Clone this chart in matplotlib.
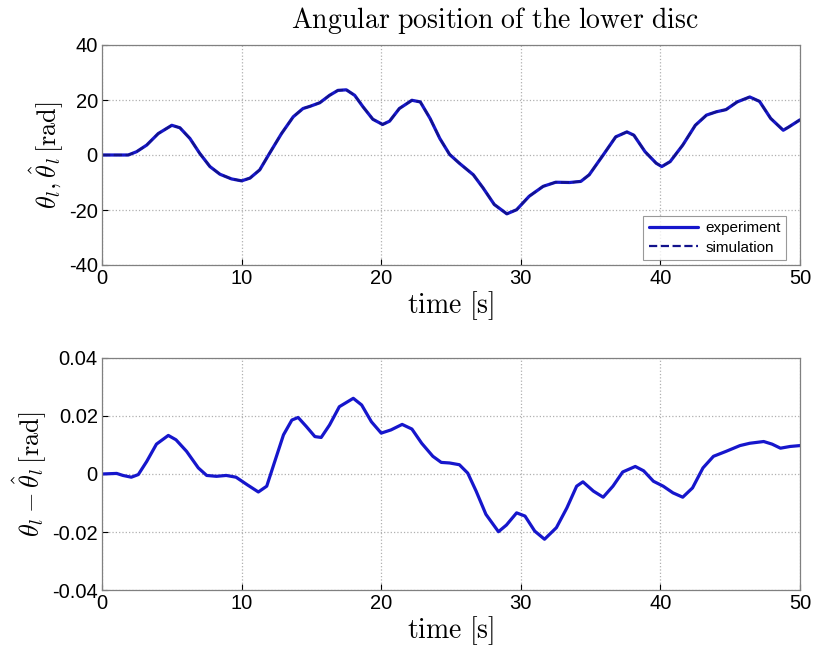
import matplotlib
matplotlib.use("Agg")
import matplotlib.pyplot as plt

plt.rcParams['mathtext.fontset'] = 'cm'
plt.rcParams['font.family'] = ['Liberation Sans', 'DejaVu Sans']

# Top: angular position of the lower disc [rad]
t_top = [0, 1.0, 1.88, 2.48, 3.2, 4.03, 5.0, 5.58, 6.3, 7.0, 7.73, 8.45, 9.28, 10.0, 10.6,
         11.3, 12.0, 12.86, 13.7, 14.4, 14.9, 15.6, 16.3, 16.9, 17.5, 18.1, 18.7, 19.4,
         20.1, 20.6, 21.3, 22.2, 22.8, 23.5, 24.2, 24.9, 25.6, 26.6, 27.3, 28.1, 29.0,
         29.7, 30.6, 31.6, 32.5, 33.5, 34.3, 34.9, 35.9, 36.8, 37.6, 38.1, 38.9, 39.7,
         40.1, 40.7, 41.6, 42.5, 43.3, 44.0, 44.7, 45.5, 46.4, 47.1, 47.9, 48.8, 49.2, 50.0]
theta = [0, 0, 0, 1.2, 3.6, 7.8, 10.8, 9.9, 6.0, 0.6, -4.2, -7.0, -8.7, -9.4, -8.4,
         -5.4, 0.6, 7.8, 13.9, 16.9, 17.7, 19.0, 21.7, 23.5, 23.7, 21.7, 17.5, 13.0,
         11.1, 12.3, 16.9, 19.9, 19.3, 13.3, 6.0, 0.2, -3.0, -7.2, -12.0, -18.0, -21.4,
         -19.9, -15.0, -11.4, -9.9, -10.0, -9.6, -7.2, 0.0, 6.6, 8.4, 7.2, 1.2, -3.0,
         -4.2, -2.4, 3.6, 10.8, 14.5, 15.7, 16.5, 19.3, 21.1, 19.5, 13.3, 9.0, 10.2, 12.8]
sim_top = theta

# Bottom: estimation error [rad]
t_bot = [0, 1.05, 1.5, 2.1, 2.6, 3.2, 3.9, 4.75, 5.3, 6.06, 6.9, 7.5, 8.2, 8.9, 9.6, 10.4,
         11.2, 11.8, 12.3, 13.0, 13.6, 14.05, 14.65, 15.25, 15.7, 16.3, 17.0, 18.0, 18.6,
         19.3, 20.0, 20.7, 21.5, 22.2, 22.9, 23.7, 24.3, 24.9, 25.6, 26.2, 26.8, 27.5,
         28.4, 28.97, 29.7, 30.3, 31.0, 31.7, 32.55, 33.3, 34.0, 34.45, 35.2, 35.9, 36.6,
         37.3, 38.2, 38.8, 39.5, 40.2, 40.9, 41.6, 42.3, 43.05, 43.8, 44.7, 45.7, 46.4,
         47.4, 48.0, 48.6, 49.3, 50.0]
err = [0, 0.0002, -0.0005, -0.0011, -0.0002, 0.0043, 0.0103, 0.0133, 0.0118, 0.0078,
       0.0021, -0.0005, -0.0008, -0.0005, -0.0011, -0.0037, -0.0062, -0.0042, 0.0032,
       0.0135, 0.0186, 0.0195, 0.0163, 0.0129, 0.0126, 0.0169, 0.0232, 0.0261, 0.0238,
       0.018, 0.0141, 0.0152, 0.0171, 0.0155, 0.0106, 0.0061, 0.004, 0.0038, 0.0032,
       0.0003, -0.0059, -0.0139, -0.0199, -0.0176, -0.0134, -0.0145, -0.0197, -0.0225,
       -0.0185, -0.0117, -0.0042, -0.0027, -0.0059, -0.008, -0.0042, 0.0007, 0.0026,
       0.0011, -0.0025, -0.0042, -0.0065, -0.008, -0.0048, 0.0021, 0.0061, 0.0078,
       0.0098, 0.0106, 0.0112, 0.0103, 0.0089, 0.0095, 0.0098]

line_color = '#1616cc'
dash_color = '#12128c'
W, H = 816, 655
fig = plt.figure(figsize=(W / 100, H / 100), dpi=100)
ax1 = fig.add_axes([102 / W, 1 - 265 / H, 698 / W, 220 / H])
ax2 = fig.add_axes([102 / W, 1 - 590 / H, 698 / W, 232 / H])

ax1.plot(t_top, theta, color=line_color, lw=2.3, label='experiment',
         solid_joinstyle='round', solid_capstyle='round')
ax1.plot(t_top, sim_top, color=dash_color, lw=1.6, ls='--', label='simulation')
ax2.plot(t_bot, err, color=line_color, lw=2.3,
         solid_joinstyle='round', solid_capstyle='round')

for ax in (ax1, ax2):
    ax.set_xlim(0, 50)
    ax.set_xticks([0, 10, 20, 30, 40, 50])
    ax.grid(True, color='#b0b0b0', ls=':', lw=0.9)
    ax.tick_params(direction='in', length=4, labelsize=14.5, pad=3, colors='#000000')
    for s in ax.spines.values():
        s.set_color('#808080')
        s.set_linewidth(0.9)
    ax.set_xlabel(r'$\mathrm{time\ [s]}$', fontsize=20, labelpad=1)

ax1.set_ylim(-40, 40)
ax1.set_yticks([-40, -20, 0, 20, 40])
ax1.set_yticklabels(['-40', '-20', '0', '20', '40'])
ax1.set_ylabel(r'$\theta_l, \hat{\theta}_l\,[\mathrm{rad}]$', fontsize=19, labelpad=2)
ax2.set_ylim(-0.04, 0.04)
ax2.set_yticks([-0.04, -0.02, 0, 0.02, 0.04])
ax2.set_yticklabels(['-0.04', '-0.02', '0', '0.02', '0.04'])
ax2.set_ylabel(r'$\theta_l - \hat{\theta}_l\,[\mathrm{rad}]$', fontsize=19, labelpad=2)

leg = ax1.legend(loc='lower right', bbox_to_anchor=(786 / W, 1 - 260 / H),
                 bbox_transform=fig.transFigure, fontsize=11, frameon=True,
                 fancybox=False, edgecolor='#808080', handlelength=3.2,
                 borderaxespad=0, labelspacing=0.35, borderpad=0.35, handletextpad=0.5)
leg.get_frame().set_linewidth(0.8)

fig.text(495 / W, 1 - 21 / H, r'$\mathrm{Angular\ position\ of\ the\ lower\ disc}$',
         ha='center', va='center', fontsize=20)

fig.savefig('out.png', dpi=100)
